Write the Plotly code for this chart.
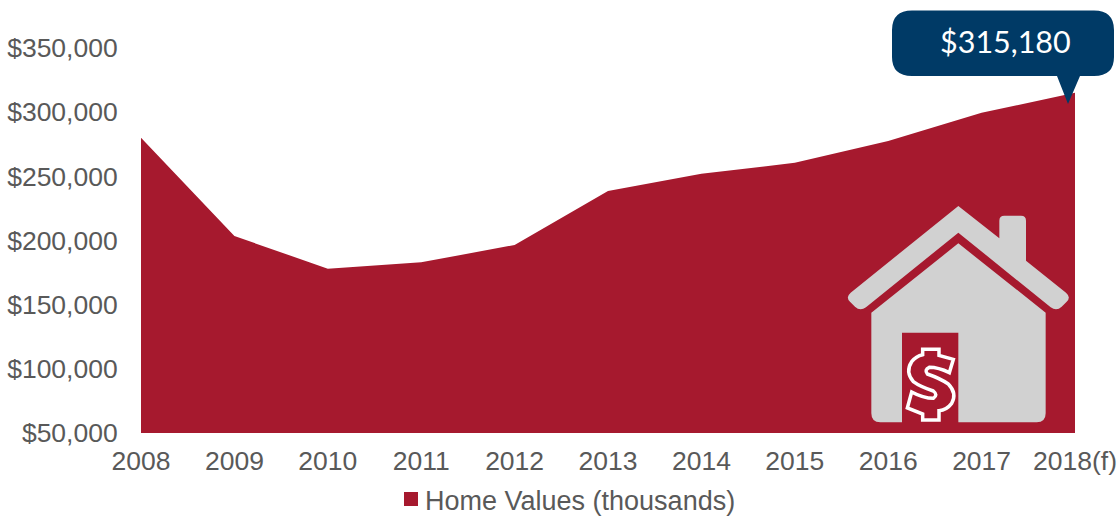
import plotly.graph_objects as go

years = ["2008","2009","2010","2011","2012","2013","2014","2015","2016","2017","2018(f)"]
home_values = [280000,203500,178000,183000,196500,238500,252000,260500,277500,299500,315180]
y_ticks = [50000,100000,150000,200000,250000,300000,350000]
y_tick_labels = ["$50,000","$100,000","$150,000","$200,000","$250,000","$300,000","$350,000"]
series_name = "Home Values (thousands)"

W, H = 1117, 517
L, R, T, B = 141, 42, 48, 84
RED = "#A6192E"; GREY = "#D1D1D1"; NAVY = "#003A66"; TXT = "#595959"

def P(pts):
    """Build an SVG path in paper coordinates from pixel-style commands."""
    out = []
    for p in pts:
        if isinstance(p, str):
            out.append(p)
        else:
            out.append(f"{(p[0]-L)/(W-L-R):.5f},{1-(p[1]-T)/(H-T-B):.5f}")
    return " ".join(out)

def Z(x, y):
    return (830 + x/3, 190 + y/3)

roof = P(["M",Z(385,48),"L",Z(508,145),"L",Z(508,92),"Q",Z(508,77),Z(523,77),"L",Z(573,77),"Q",Z(588,77),Z(588,92),
          "L",Z(588,212),"L",Z(708,308),"Q",Z(724,322),Z(710,335),"L",Z(695,350),"Q",Z(680,364),Z(662,352),
          "L",Z(385,128),"L",Z(108,352),"Q",Z(90,364),Z(75,350),"L",Z(60,335),"Q",Z(46,322),Z(62,308),"Z"])
body = P(["M",Z(385,160),"L",Z(647,368),"L",Z(647,670),"Q",Z(647,697),Z(620,697),"L",Z(385,697),"L",Z(385,428),
          "L",Z(216,428),"L",Z(216,697),"L",Z(151,697),"Q",Z(124,697),Z(124,670),"L",Z(124,368),"Z"])
dollar = P(["M",Z(278,478),"L",Z(327,478),"L",Z(327,496),"L",Z(370,508),"L",Z(358,548),
            "Q",Z(325,532),Z(298,532),"Q",Z(282,540),Z(292,552),"Q",Z(330,565),Z(355,582),"Q",Z(382,610),Z(365,640),
            "Q",Z(350,660),Z(327,662),"L",Z(327,690),"L",Z(278,690),"L",Z(278,672),"L",Z(232,654),"L",Z(245,606),
            "Q",Z(280,625),Z(310,625),"Q",Z(325,615),Z(310,603),"Q",Z(270,590),Z(250,575),"Q",Z(225,545),Z(245,515),
            "Q",Z(258,498),Z(278,494),"Z"])
callout = P(["M",(912,10.5),"L",(1094,10.5),"Q",(1114,10.5),(1114,30),"L",(1114,57),"Q",(1114,76),(1094,76),
             "L",(1080,76),"L",(1068,104),"L",(1057,76),"L",(912,76),"Q",(892,76),(892,57),"L",(892,30),"Q",(892,10.5),(912,10.5),"Z"])

fig = go.Figure()
fig.add_trace(go.Scatter(x=years, y=home_values, mode="none", fill="tozeroy", fillcolor=RED,
                         showlegend=False, hoverinfo="x+y"))
fig.add_trace(go.Scatter(x=[None], y=[None], mode="markers", name=series_name,
                         marker=dict(symbol="square", size=14, color=RED)))

def shape(path, color, line=None):
    return dict(type="path", xref="paper", yref="paper", path=path, fillcolor=color,
                line=dict(color=line or color, width=3.5 if line else 0), layer="above")

fig.update_layout(
    width=W, height=H, autosize=False,
    paper_bgcolor="white", plot_bgcolor="white",
    margin=dict(l=L, r=R, t=T, b=B, autoexpand=False),
    font=dict(family="Liberation Sans, Arial, sans-serif", size=26.5, color=TXT),
    xaxis=dict(type="category", range=[0, 10], showgrid=False, zeroline=False, showline=False,
               ticks="outside", ticklen=4, tickcolor="rgba(0,0,0,0)", tickfont=dict(size=26.5, color=TXT)),
    yaxis=dict(range=[50000, 350000], tickvals=y_ticks, ticktext=y_tick_labels, showgrid=False, zeroline=False,
               showline=False, ticks="outside", ticklen=17, tickcolor="rgba(0,0,0,0)", tickfont=dict(size=26.5, color=TXT)),
    legend=dict(orientation="h", x=(385-L)/(W-L-R), xanchor="left", y=-0.109, yanchor="top", font=dict(size=27, color=TXT),
                bgcolor="rgba(0,0,0,0)"),
    shapes=[shape(roof, GREY), shape(body, GREY), shape(dollar, RED, "white"), shape(callout, NAVY)],
    annotations=[dict(xref="paper", yref="paper", x=(1005-L)/(W-L-R), y=1-(41-T)/(H-T-B), xanchor="center", yanchor="middle",
                      showarrow=False, text=f"${home_values[-1]:,}",
                      font=dict(family="Lato, sans-serif", size=30.5, color="white", weight=400))],
)
fig.write_html("out.html", config=dict(displayModeBar=False),
               post_script="document.body.style.margin='0';document.body.style.overflow='hidden';"
                           "var s=document.querySelector('.legend .legendsymbols');if(s){s.setAttribute('transform','translate(6,0)');}")
